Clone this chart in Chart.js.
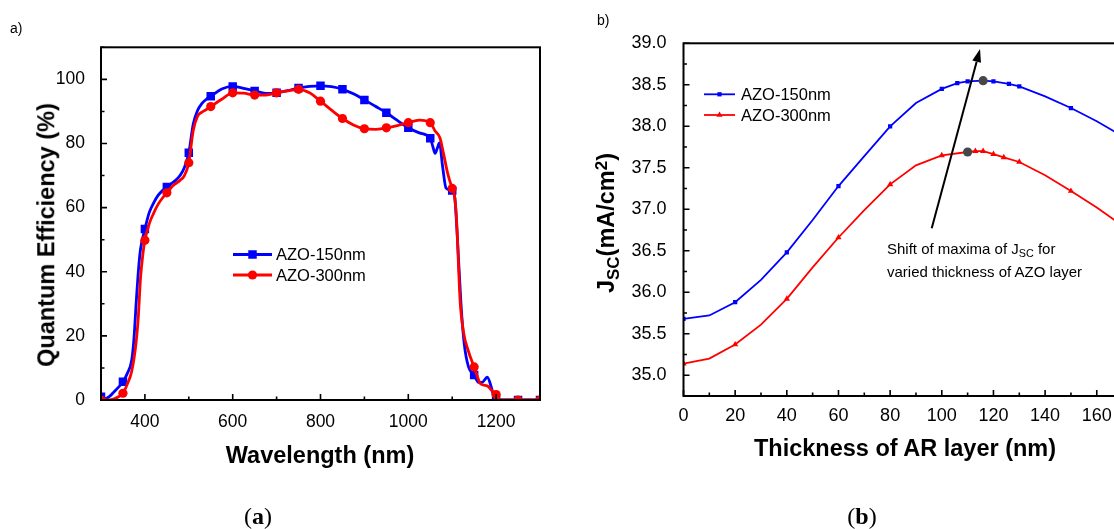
<!DOCTYPE html>
<html>
<head>
<meta charset="utf-8">
<script src="https://cdn.jsdelivr.net/npm/chart.js@4.4.1/dist/chart.umd.min.js"></script>
<style>
  html, body { margin: 0; padding: 0; background: #fff; }
  body { width: 1114px; height: 529px; overflow: hidden; position: relative;
         font-family: "Liberation Sans", Arial, sans-serif; color: #000; }
  canvas { position: absolute; top: 0; }
  #chartA { left: 0; }
  #chartB { left: 590px; }
  .t { position: absolute; white-space: nowrap; line-height: 1; }
  .ctr { transform: translate(-50%, -50%); }
  .rot { transform: translate(-50%, -50%) rotate(-90deg); }
  .axt { font-weight: bold; font-size: 23.5px; }
  .cap { font-family: "Liberation Serif", "DejaVu Serif", serif; font-size: 24px; }
  .note { font-size: 15px; line-height: 22.7px; }
  sub { font-size: 0.72em; vertical-align: -0.3em; line-height: 0; }
  sup { font-size: 0.72em; vertical-align: 0.45em; line-height: 0; }
</style>
</head>
<body>
<canvas id="chartA" width="560" height="529"></canvas>
<canvas id="chartB" width="560" height="529"></canvas>

<div class="t" style="left:10px; top:21px; font-size:14px;">a)</div>
<div class="t" style="left:597px; top:13px; font-size:14px;">b)</div>

<div class="t axt rot" style="left:47px; top:235px;">Quantum Efficiency (%)</div>
<div class="t axt ctr" style="left:320px; top:456px;">Wavelength (nm)</div>

<div class="t axt rot" style="left:607px; top:223px;">J<sub>SC</sub>(mA/cm<sup>2</sup>)</div>
<div class="t axt ctr" style="left:905px; top:449px;">Thickness of AR layer (nm)</div>

<div class="t note" style="left:887px; top:238px;">Shift of maxima of J<sub>SC</sub> for<br>varied thickness of AZO layer</div>

<div class="t cap ctr" style="left:258px; top:516px;">(<b>a</b>)</div>
<div class="t cap ctr" style="left:862px; top:516px;">(<b>b</b>)</div>

<script>
// ---- panel (a): quantum efficiency vs wavelength ----
const seriesNames = ['AZO-150nm', 'AZO-300nm'];

const wlBlue = [300, 310, 320, 330, 340, 350, 360, 370, 375, 380, 385, 390, 400, 410, 420, 430, 440, 450,
  460, 470, 480, 490, 500, 510, 520, 530, 540, 550, 575, 600, 625, 650, 680, 700, 725, 750, 775, 800,
  825, 850, 875, 900, 925, 950, 975, 1000, 1025, 1050, 1056, 1061, 1066, 1071, 1078, 1086, 1100, 1106,
  1112, 1120, 1127, 1137, 1150, 1160, 1168, 1180, 1190, 1196, 1200, 1210, 1250, 1300];
const qeBlue = [1.0, 0.4, 1.2, 2.6, 4.0, 5.7, 8.3, 12.5, 19, 30, 40, 47, 53.3, 58.5, 61.5, 63.8, 65.3, 66.4,
  67.5, 68.5, 70, 72.5, 77.1, 86, 90.3, 92.5, 93.8, 94.7, 97.0, 97.8, 97.2, 96.4, 95.6, 95.8, 96.5, 97.3, 97.8, 98.0,
  97.7, 96.9, 95.5, 93.6, 91.6, 89.6, 87.2, 84.9, 83.3, 81.6, 79, 76.9, 78.5, 80.2, 73, 66.1, 65.3, 63,
  50, 30, 18, 10.4, 7.8, 5.5, 5.5, 7.1, 3.5, 0.5, 0.2, 0, 0, 0];

const wlRed = [300, 320, 330, 340, 350, 360, 370, 380, 385, 390, 395, 400, 410, 420, 430, 440, 450, 460,
  470, 480, 490, 500, 510, 520, 530, 540, 550, 575, 600, 625, 650, 680, 700, 725, 750, 775, 800, 825,
  850, 875, 900, 925, 950, 975, 1000, 1025, 1050, 1061, 1072, 1080, 1090, 1100, 1105, 1110, 1118, 1126,
  1136, 1150, 1165, 1180, 1190, 1200, 1210, 1250, 1300];
const qeRed = [0, 0, 0.4, 1.0, 2.1, 5, 9, 18, 26, 38, 45, 49.8, 55, 58.3, 61, 63, 64.6, 66.3,
  67.5, 68.5, 70, 74.0, 84, 88.5, 89.8, 90.6, 91.5, 93.8, 95.8, 95.7, 95.1, 95.2, 95.8, 96.4, 96.9, 95.8, 93.2, 90.4,
  87.8, 85.8, 84.6, 84.4, 84.9, 85.6, 86.5, 87.3, 86.5, 83.9, 81.8, 77, 70.5, 66.0, 64, 56, 31, 21,
  15.6, 10.3, 5.0, 4.4, 3.0, 1.7, 0, 0, 0];

const wlTicks = [400, 600, 800, 1000, 1200];
const qeTicks = [0, 20, 40, 60, 80, 100];

// ---- panel (b): Jsc vs AR layer thickness ----
const thickBlue = [0, 10, 20, 30, 40, 50, 60, 70, 80, 90, 100, 106, 110, 116, 120, 126, 130, 140, 150, 160, 170];
const jscBlue = [35.68, 35.72, 35.88, 36.15, 36.48, 36.87, 37.28, 37.64, 38.00, 38.28, 38.45, 38.52, 38.54,
  38.55, 38.54, 38.51, 38.48, 38.36, 38.22, 38.06, 37.88];
const markedBlue = [0, 20, 40, 60, 80, 100, 106, 110, 116, 120, 126, 130, 150];

const thickRed = [0, 10, 20, 30, 40, 50, 60, 70, 80, 90, 100, 110, 113, 116, 120, 124, 130, 140, 150, 160, 170];
const jscRed = [35.14, 35.20, 35.37, 35.61, 35.92, 36.30, 36.66, 36.99, 37.30, 37.53, 37.65, 37.69, 37.70,
  37.70, 37.665, 37.625, 37.57, 37.41, 37.22, 37.02, 36.80];
const markedRed = [0, 20, 40, 60, 80, 100, 110, 113, 116, 120, 124, 130, 150];

const maxThick = [116, 110];
const maxJsc = [38.55, 37.69];
const arrowTail = [96.1, 36.77];
const arrowHead = [114.8, 38.93];

const thickTicks = [0, 20, 40, 60, 80, 100, 120, 140, 160];
const jscTicks = [35.0, 35.5, 36.0, 36.5, 37.0, 37.5, 38.0, 38.5, 39.0];

const FONT = '"Liberation Sans", Arial, sans-serif';
const BLUE = '#0000ff';
const RED = '#ff0000';

function pts(xs, ys) {
  return xs.map((x, i) => ({ x: x, y: ys[i] }));
}

// frame round the plot area and inward ticks on bottom and left axes
const frameTicks = {
  id: 'frameTicks',
  afterDatasetsDraw(chart, args, o) {
    const { ctx, chartArea: a, scales: { x, y } } = chart;
    ctx.save();
    ctx.strokeStyle = '#000';
    ctx.lineWidth = o.tickWidth;
    ctx.beginPath();
    const start = (s, step) => Math.ceil(s.min / step - 1e-6) * step;
    for (let v = start(x, o.xMinor); v <= x.max + 1e-6; v += o.xMinor) {
      const px = x.getPixelForValue(v);
      const r = v / o.xMajor;
      const len = Math.abs(r - Math.round(r)) < 1e-6 ? o.major : o.minor;
      ctx.moveTo(px, a.bottom);
      ctx.lineTo(px, a.bottom - len);
    }
    for (let v = start(y, o.yMinor); v <= y.max + 1e-6; v += o.yMinor) {
      const py = y.getPixelForValue(v);
      const r = v / o.yMajor;
      const len = Math.abs(r - Math.round(r)) < 1e-6 ? o.major : o.minor;
      ctx.moveTo(a.left, py);
      ctx.lineTo(a.left + len, py);
    }
    ctx.stroke();
    ctx.lineWidth = o.frameWidth;
    ctx.strokeRect(a.left, a.top, a.right - a.left, a.bottom - a.top);
    ctx.restore();
  }
};

// legend drawn inside the plot
const inLegend = {
  id: 'inLegend',
  afterDraw(chart, args, o) {
    const ctx = chart.ctx;
    ctx.save();
    chart.data.datasets.forEach((ds, i) => {
      if (!ds.label) return;
      const y = o.y + i * o.gap;
      ctx.strokeStyle = ds.borderColor;
      ctx.fillStyle = ds.borderColor;
      ctx.lineWidth = ds.borderWidth;
      ctx.beginPath();
      ctx.moveTo(o.x, y);
      ctx.lineTo(o.x + o.len, y);
      ctx.stroke();
      Chart.helpers.drawPoint(ctx, { pointStyle: ds.pointStyle, radius: o.radius[i], borderWidth: 0, rotation: 0 },
        o.x + o.len / 2, y);
      ctx.fillStyle = '#000';
      ctx.font = o.font;
      ctx.textBaseline = 'middle';
      ctx.textAlign = 'left';
      ctx.fillText(ds.label, o.x + o.len + o.pad, y + 1);
    });
    ctx.restore();
  }
};

// arrow pointing across the two maxima
const shiftArrow = {
  id: 'shiftArrow',
  afterDatasetsDraw(chart) {
    const { ctx, scales: { x, y } } = chart;
    const x0 = x.getPixelForValue(arrowTail[0]), y0 = y.getPixelForValue(arrowTail[1]);
    const x1 = x.getPixelForValue(arrowHead[0]), y1 = y.getPixelForValue(arrowHead[1]);
    const ang = Math.atan2(y1 - y0, x1 - x0);
    const hl = 13, hw = 4.5;
    const bx = x1 - hl * Math.cos(ang), by = y1 - hl * Math.sin(ang);
    ctx.save();
    ctx.strokeStyle = '#000';
    ctx.fillStyle = '#000';
    ctx.lineWidth = 2;
    ctx.beginPath();
    ctx.moveTo(x0, y0);
    ctx.lineTo(bx, by);
    ctx.stroke();
    ctx.beginPath();
    ctx.moveTo(x1, y1);
    ctx.lineTo(bx + hw * Math.sin(ang), by - hw * Math.cos(ang));
    ctx.lineTo(bx - hw * Math.sin(ang), by + hw * Math.cos(ang));
    ctx.closePath();
    ctx.fill();
    ctx.restore();
  }
};

function fixedTicks(list) {
  return s => { s.ticks = list.map(v => ({ value: v })); };
}

new Chart(document.getElementById('chartA'), {
  type: 'line',
  data: {
    datasets: [
      {
        label: seriesNames[0], data: pts(wlBlue, qeBlue),
        borderColor: BLUE, backgroundColor: BLUE, borderWidth: 2.8,
        pointStyle: 'rect', pointBorderWidth: 0,
        pointRadius: c => (c.raw && c.raw.x % 50 === 0 ? 6 : 0),
        cubicInterpolationMode: 'monotone', order: 1
      },
      {
        label: seriesNames[1], data: pts(wlRed, qeRed),
        borderColor: RED, backgroundColor: RED, borderWidth: 2.8,
        pointStyle: 'circle', pointBorderWidth: 0,
        pointRadius: c => (c.raw && c.raw.x % 50 === 0 ? 4.6 : 0),
        cubicInterpolationMode: 'monotone', order: 0
      }
    ]
  },
  options: {
    responsive: false, animation: false, events: [],
    layout: { padding: { left: 0, top: 47.3, right: 20, bottom: 0 } },
    plugins: {
      legend: { display: false }, tooltip: { enabled: false },
      frameTicks: { xMinor: 100, xMajor: 200, yMinor: 10, yMajor: 20, major: 6, minor: 3.5, tickWidth: 1.6, frameWidth: 2 },
      inLegend: { x: 233, y: 254.5, gap: 20.5, len: 39, pad: 4, radius: [6, 4.6], font: '16.5px ' + FONT }
    },
    scales: {
      x: {
        type: 'linear', min: 300, max: 1300,
        afterBuildTicks: fixedTicks(wlTicks),
        afterFit: s => { s.height = 129; },
        grid: { display: false }, border: { display: false },
        ticks: { color: '#000', font: { family: FONT, size: 17.5 }, padding: 4, maxRotation: 0, autoSkip: false,
                 callback: v => String(v) }
      },
      y: {
        type: 'linear', min: 0, max: 110,
        afterBuildTicks: fixedTicks(qeTicks),
        afterFit: s => { s.width = 101; },
        grid: { display: false }, border: { display: false },
        ticks: { color: '#000', font: { family: FONT, size: 17.5 }, padding: 8, callback: v => String(v) }
      }
    }
  },
  plugins: [frameTicks, inLegend]
});

new Chart(document.getElementById('chartB'), {
  type: 'line',
  data: {
    datasets: [
      {
        label: seriesNames[0], data: pts(thickBlue, jscBlue),
        borderColor: BLUE, backgroundColor: BLUE, borderWidth: 1.8,
        pointStyle: 'rect', pointBorderWidth: 0,
        pointRadius: c => (c.raw && markedBlue.includes(c.raw.x) ? 3 : 0),
        tension: 0, order: 1
      },
      {
        label: seriesNames[1], data: pts(thickRed, jscRed),
        borderColor: RED, backgroundColor: RED, borderWidth: 1.8,
        pointStyle: 'triangle', pointBorderWidth: 0,
        pointRadius: c => (c.raw && markedRed.includes(c.raw.x) ? 3.6 : 0),
        tension: 0, order: 1
      },
      {
        type: 'scatter', label: '', data: pts(maxThick, maxJsc),
        backgroundColor: '#474747', borderColor: '#474747', borderWidth: 0,
        pointRadius: 4.6, showLine: false, order: -1
      }
    ]
  },
  options: {
    responsive: false, animation: false, events: [],
    layout: { padding: { left: 0, top: 43.3, right: 27.4, bottom: 0 } },
    plugins: {
      legend: { display: false }, tooltip: { enabled: false },
      frameTicks: { xMinor: 10, xMajor: 20, yMinor: 0.25, yMajor: 0.5, major: 6, minor: 3.5, tickWidth: 1.6, frameWidth: 2 },
      inLegend: { x: 114, y: 94.3, gap: 20.7, len: 31, pad: 6, radius: [3, 3.6], font: '16.5px ' + FONT }
    },
    scales: {
      x: {
        type: 'linear', min: 0, max: 170,
        afterBuildTicks: fixedTicks(thickTicks),
        afterFit: s => { s.height = 133; },
        grid: { display: false }, border: { display: false },
        ticks: { color: '#000', font: { family: FONT, size: 18 }, padding: 1, maxRotation: 0, autoSkip: false,
                 callback: v => String(v) }
      },
      y: {
        type: 'linear', min: 34.75, max: 39.0,
        afterBuildTicks: fixedTicks(jscTicks),
        afterFit: s => { s.width = 93.5; },
        grid: { display: false }, border: { display: false },
        ticks: { color: '#000', font: { family: FONT, size: 18 }, padding: 9, callback: v => v.toFixed(1) }
      }
    }
  },
  plugins: [frameTicks, inLegend, shiftArrow]
});
</script>
</body>
</html>
